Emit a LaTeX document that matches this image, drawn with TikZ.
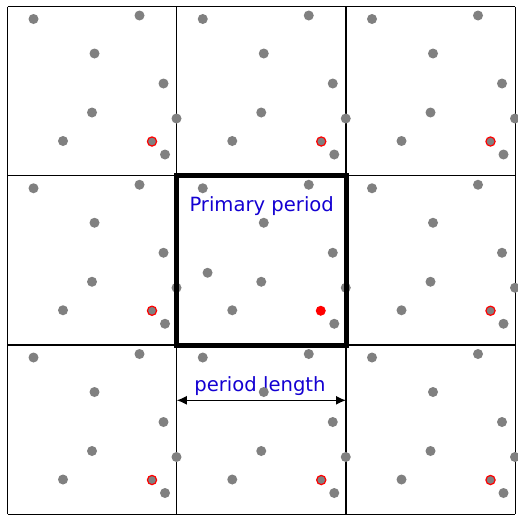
\documentclass[tikz,border=0pt]{standalone}
\usepackage{fontspec}
\setmainfont{DejaVu Sans}
\usepackage{tikz}
\usetikzlibrary{arrows.meta, positioning, calc}
\definecolor{dotgray}{RGB}{128,128,128}
\definecolor{markred}{RGB}{255,0,0}
\definecolor{labelblue}{RGB}{20,0,210}
\tikzset{
  gridline/.style={draw=black,line width=1.3pt},
  primaryframe/.style={draw=black,line width=5pt},
  atom/.style={fill=dotgray},
  markedatom/.style={fill=dotgray,draw=markred,line width=1.2pt},
  primaryatom/.style={fill=markred},
  lbl/.style={text=labelblue,font=\fontsize{19.6}{22}\selectfont,inner sep=0pt,anchor=base},
  lenarr/.style={{Latex[length=10pt,width=9pt]}-{Latex[length=10pt,width=9pt]},line width=1.3pt}
}
\newcommand{\cellsize}{169.25}

\begin{document}
\begin{tikzpicture}[x=1pt,y=-1pt]
  \useasboundingbox (0,0) rectangle (518,514);
  \fill[white] (0,0) rectangle (518,514);

  % thin grid of periodic images
  \foreach \k in {0,...,3} {
    \draw[gridline] (7.5+\k*\cellsize,6.5) -- (7.5+\k*\cellsize,6.5+3*\cellsize);
    \draw[gridline] (7.5,6.5+\k*\cellsize) -- (7.5+3*\cellsize,6.5+\k*\cellsize);
  }

  % labels
  \node[lbl] (primlbl) at (261.7,211.7) {Primary period};
  \node[lbl] (lenlbl) at (260,391.7) {period length};

  % atoms in every cell
  \foreach \i in {0,1,2} {
    \foreach \j in {0,1,2} {
      \begin{scope}[shift={(7.5+\i*\cellsize,6.5+\j*\cellsize)}]
        \foreach \px/\py in {26/12.5, 132/9, 87/47, 156/77, 84.5/106,
                             169/112, 55.5/134.5, 157.5/148}
          \fill[atom] (\px,\py) circle (5);
        \ifnum\i=1 \ifnum\j=1
          \fill[atom] (30.8,97) circle (5);
          \fill[primaryatom] (144,135) circle (5);
        \else
          \filldraw[markedatom] (144.5,135) circle (4.6);
        \fi \else
          \filldraw[markedatom] (144.5,135) circle (4.6);
        \fi
      \end{scope}
    }
  }

  % primary period
  \draw[primaryframe] (7.5+\cellsize,6.5+\cellsize) rectangle
    (7.5+2*\cellsize,6.5+2*\cellsize);

  % period length arrow
  \coordinate (lenl) at (7.5+\cellsize,400.3);
  \coordinate (lenr) at (7.5+2*\cellsize,400.3);
  \draw[lenarr] (lenl) -- (lenr);
\end{tikzpicture}
\end{document}
